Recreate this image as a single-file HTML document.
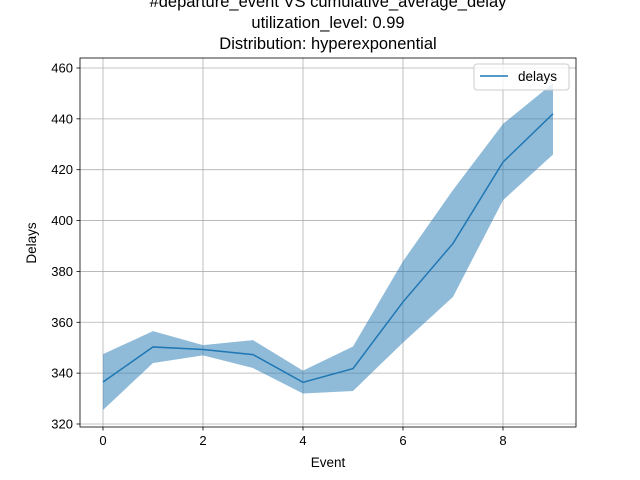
<!DOCTYPE html>
<html><head><meta charset="utf-8"><style>body{margin:0;background:#fff}svg{display:block;font-family:"Liberation Sans","DejaVu Sans",sans-serif}</style></head>
<body>
<svg id="chart" width="640" height="480">
<rect width="640" height="480" fill="#fff"/>
<g id="grid"></g>
<path id="band" fill="#1f77b4" fill-opacity="0.5"/>
<path id="line" fill="none" stroke="#1f77b4" stroke-width="1.5"/>
<rect x="80" y="58" width="496" height="369" fill="none" stroke="#000" stroke-width="0.8"/>
<g id="ticks" font-size="13"></g>
<text x="328" y="7" font-size="16.5" text-anchor="middle">#departure_event VS cumulative_average_delay</text>
<text x="328" y="28" font-size="16.5" text-anchor="middle">utilization_level: 0.99</text>
<text x="328" y="49" font-size="16.5" text-anchor="middle">Distribution: hyperexponential</text>
<text x="328" y="467" font-size="13.5" text-anchor="middle">Event</text>
<text x="36" y="243" font-size="13.5" text-anchor="middle" transform="rotate(-90 36 243)">Delays</text>
<g>
<rect x="474" y="64" width="95" height="26" rx="3" fill="#fff" fill-opacity="0.8" stroke="#ccc"/>
<line x1="480" y1="76" x2="508" y2="76" stroke="#1f77b4" stroke-width="1.5"/>
<text x="518" y="81" font-size="13.5">delays</text>
</g>
</svg>
<script>
const events=[0,1,2,3,4,5,6,7,8,9];
const meanDelays=[336.5,350.3,349.3,347.3,336.4,341.8,368,391,423,442];
const upperDelays=[347.5,356.5,351,353,341,350.5,384,412,438,454];
const lowerDelays=[325.5,344,347,342,332,333,352,370,408,426];
const xTicks=[0,2,4,6,8];
const yTicks=[320,340,360,380,400,420,440,460];
const X=v=>103+v*50, Y=v=>424-(v-320)*2.543;
const ns="http://www.w3.org/2000/svg";
const g=document.getElementById('grid'),t=document.getElementById('ticks');
function mk(p,tag,a){const e=document.createElementNS(ns,tag);for(const k in a)e.setAttribute(k,a[k]);p.appendChild(e);return e;}
xTicks.forEach(v=>{const x=X(v);
const gl=mk(g,'line',{x1:x,x2:x,y1:58,y2:427,stroke:'#b0b0b0','stroke-width':0.8});


mk(t,'line',{x1:x,x2:x,y1:427,y2:430.5,stroke:'#000','stroke-width':0.8});
const tx=mk(t,'text',{x:x,y:445,'text-anchor':'middle'});tx.textContent=v;

});
yTicks.forEach(v=>{const y=Y(v);
const gl=mk(g,'line',{x1:80,x2:576,y1:y,y2:y,stroke:'#b0b0b0','stroke-width':0.8});


mk(t,'line',{x1:76.5,x2:80,y1:y,y2:y,stroke:'#000','stroke-width':0.8});
const tx=mk(t,'text',{x:73,y:y+4.5,'text-anchor':'end'});tx.textContent=v;

});
let d=events.map((e,i)=>(i?'L':'M')+X(e)+','+Y(upperDelays[i])).join('');
for(let i=events.length-1;i>=0;i--)d+='L'+X(events[i])+','+Y(lowerDelays[i]);
document.getElementById('band').setAttribute('d',d+'Z');
document.getElementById('line').setAttribute('d',events.map((e,i)=>(i?'L':'M')+X(e)+','+Y(meanDelays[i])).join(''));
</script>
</body></html>
